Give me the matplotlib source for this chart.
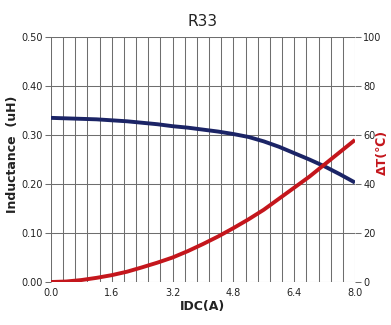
import numpy as np
import matplotlib
matplotlib.use("Agg")
import matplotlib.pyplot as plt

# current (A)
idc = [0.0, 0.4, 0.8, 1.2, 1.6, 2.0, 2.4, 2.8, 3.2, 3.6, 4.0,
       4.4, 4.8, 5.2, 5.6, 6.0, 6.4, 6.8, 7.2, 7.6, 8.0]
# inductance (uH), left axis
inductance = [0.335, 0.334, 0.333, 0.332, 0.330, 0.328, 0.325, 0.322, 0.318, 0.315, 0.311,
              0.307, 0.302, 0.296, 0.287, 0.276, 0.263, 0.250, 0.236, 0.220, 0.203]
# temperature rise (C), right axis
delta_t = [0.0, 0.2, 0.8, 1.7, 2.8, 4.2, 6.0, 7.9, 10.0, 12.6, 15.5,
           18.6, 22.0, 25.6, 29.5, 34.0, 38.5, 43.0, 48.0, 53.0, 58.0]

x_ticks = [0.0, 1.6, 3.2, 4.8, 6.4, 8.0]
l_ticks = [0.0, 0.1, 0.2, 0.3, 0.4, 0.5]
r_ticks = [0, 20, 40, 60, 80, 100]

grid_col = "#6e6e6e"
blue = "#1b2466"
red = "#c4161c"
txt = "#222222"

fig = plt.figure(figsize=(3.91, 3.25), dpi=100)
ax = fig.add_axes([0.1304, 0.1323, 0.7775, 0.7538])

# vertical grid every 0.32 A
for xv in np.arange(0, 8.0001, 0.32):
    ax.axvline(xv, color=grid_col, lw=0.75, zorder=1)
for yv in l_ticks:
    ax.axhline(yv, color=grid_col, lw=0.75, zorder=1)

ax.plot(idc, inductance, color=blue, lw=2.8, zorder=3, solid_capstyle="butt")
ax.set_xlim(0, 8)
ax.set_ylim(0, 0.5)
ax.set_xticks(x_ticks)
ax.set_xticklabels([f"{v:.1f}" for v in x_ticks])
ax.set_yticks(l_ticks)
ax.set_yticklabels([f"{v:.2f}" for v in l_ticks])
for s in ax.spines.values():
    s.set_visible(False)
ax.tick_params(axis="x", length=0, pad=4, labelsize=7, colors=txt)
ax.tick_params(axis="y", length=4, width=0.75, color=grid_col, pad=2, labelsize=7, labelcolor=txt)
for t in ax.get_xticklabels() + ax.get_yticklabels():
    t.set_fontfamily("Liberation Sans Narrow")

ax2 = ax.twinx()
ax2.plot(idc, delta_t, color=red, lw=2.8, zorder=3, solid_capstyle="butt")
ax2.set_ylim(0, 100)
ax2.set_yticks(r_ticks)
ax2.set_yticklabels([str(v) for v in r_ticks])
for s in ax2.spines.values():
    s.set_visible(False)
ax2.tick_params(axis="y", length=4, width=0.75, color=grid_col, pad=2, labelsize=7, labelcolor=txt)
for t in ax2.get_yticklabels():
    t.set_fontfamily("Liberation Sans Narrow")

ax.set_title("R33", fontsize=11, pad=8, color=txt)
ax.set_xlabel("IDC(A)", fontsize=9, fontweight="bold", labelpad=2, color=txt)
ax.set_ylabel("Inductance  (uH)", fontsize=9, fontweight="bold", color=txt)
ax.yaxis.set_label_coords(-0.105, 0.52)
ax2.set_ylabel("ΔT(℃)", fontsize=9, fontweight="bold", color=red, rotation=90)
ax2.yaxis.set_label_coords(1.07, 0.53)

fig.savefig("out.png", dpi=100)
